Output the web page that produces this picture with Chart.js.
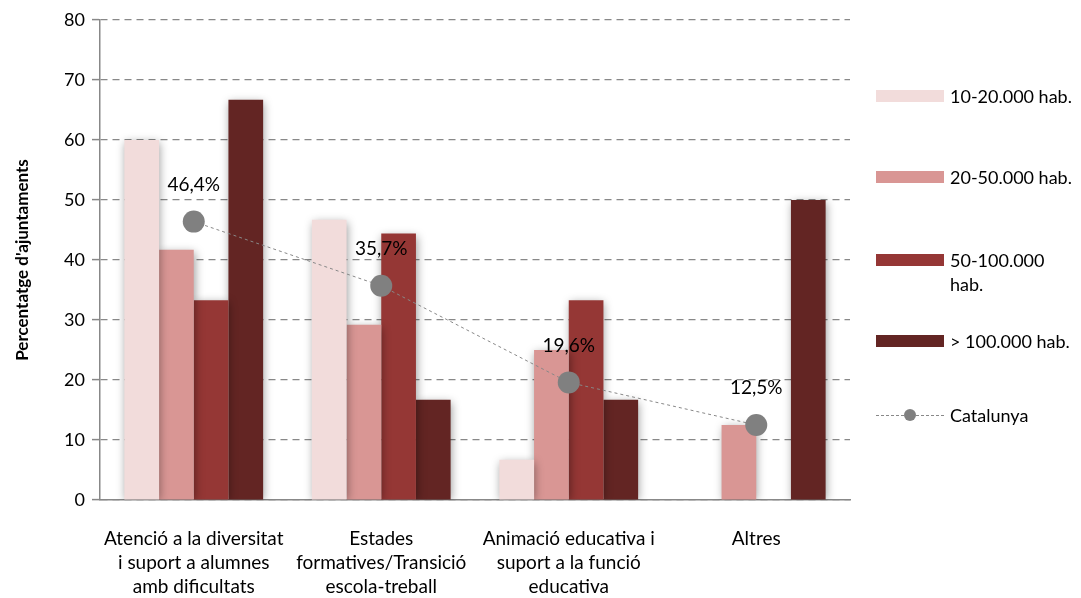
<!DOCTYPE html>
<html>
<head>
<meta charset="utf-8">
<script src="https://cdn.jsdelivr.net/npm/chart.js@4/dist/chart.umd.min.js"></script>
<style>
  body { margin: 0; background: #fff; }
  #caixa { position: relative; width: 1081px; height: 598px; }
  #llegenda { position: absolute; left: 876px; top: 0; font-family: Lato, sans-serif; font-size: 18px; color: #000; }
  .item { position: absolute; left: 0; width: 205px; display: flex; align-items: flex-start; }
  .mostra { width: 68px; height: 12px; flex: none; margin-top: 6px; }
  .text { margin-left: 6px; line-height: 24px; }
  .linia { position: relative; width: 68px; height: 12px; flex: none; margin-top: 6px; }
  .linia::before { content: ''; position: absolute; left: 0; right: 0; top: 6px; border-top: 1px dashed #888; }
  .linia::after { content: ''; position: absolute; left: 28px; top: 0; width: 12px; height: 12px; border-radius: 50%; background: #808080; }
</style>
</head>
<body>
<div id="caixa">
  <canvas id="grafic"></canvas>
  <div id="llegenda"></div>
</div>
<script>
const categories = [
    ['Atenció a la diversitat', 'i suport a alumnes', 'amb dificultats'],
    ['Estades', 'formatives/Transició', 'escola-treball'],
    ['Animació educativa i', 'suport a la funció', 'educativa'],
    ['Altres']
];
const sèries = ['10-20.000 hab.', '20-50.000 hab.', '50-100.000 hab.', '> 100.000 hab.'];
const valors10a20 = [60, 46.7, 6.7, 0];
const valors20a50 = [41.7, 29.2, 25, 12.5];
const valors50a100 = [33.3, 44.4, 33.3, 0];
const valorsMes100 = [66.7, 16.7, 16.7, 50];
const valorsCatalunya = [46.4, 35.7, 19.6, 12.5];
const ticksY = [0, 10, 20, 30, 40, 50, 60, 70, 80];
const colors = ['#F2DCDB', '#D99694', '#953735', '#632523'];

// ombra suau sota les barres
const ombra = {
    id: 'ombra',
    beforeDatasetDraw(chart, args) {
        if (args.meta.type !== 'bar') return;
        const ctx = chart.ctx;
        ctx.save();
        ctx.shadowColor = 'rgba(0,0,0,0.4)';
        ctx.shadowBlur = 9;
        ctx.shadowOffsetX = 1;
        ctx.shadowOffsetY = 2;
    },
    afterDatasetDraw(chart, args) {
        if (args.meta.type !== 'bar') return;
        chart.ctx.restore();
    }
};

const etiquetes = {
    id: 'etiquetes',
    afterDatasetsDraw(chart) {
        const meta = chart.getDatasetMeta(0);
        const ctx = chart.ctx;
        ctx.save();
        ctx.font = '19px Lato, sans-serif';
        ctx.fillStyle = '#000';
        ctx.textAlign = 'center';
        ctx.textBaseline = 'middle';
        meta.data.forEach((punt, i) => {
            const text = valorsCatalunya[i].toFixed(1).replace('.', ',') + '%';
            ctx.fillText(text, punt.x, punt.y - 37);
        });
        ctx.restore();
    }
};

const datasets = [{
    type: 'line',
    label: 'Catalunya',
    data: valorsCatalunya,
    borderColor: '#888',
    borderWidth: 1,
    borderDash: [3, 3],
    pointRadius: 11,
    pointBackgroundColor: '#808080',
    pointBorderWidth: 0,
    order: 0
}];
[valors10a20, valors20a50, valors50a100, valorsMes100].forEach((v, i) => {
    datasets.push({
        type: 'bar',
        label: sèries[i],
        data: v,
        backgroundColor: colors[i],
        borderWidth: 0,
        categoryPercentage: 0.74,
        barPercentage: 1,
        order: 1
    });
});

new Chart(document.getElementById('grafic'), {
    data: { labels: categories, datasets: datasets },
    plugins: [ombra, etiquetes],
    options: {
        responsive: true,
        maintainAspectRatio: false,
        animation: false,
        layout: { padding: { top: 20, right: 231, left: 0, bottom: 0 } },
        plugins: { legend: { display: false }, tooltip: { enabled: false } },
        scales: {
            x: {
                grid: { display: false },
                border: { display: true, color: '#888', width: 1.5 },
                ticks: { color: '#000', font: { family: 'Lato', size: 19, lineHeight: '24px' }, padding: 19, maxRotation: 0 },
                afterFit(s) { s.height = 98; }
            },
            y: {
                min: 0,
                max: 80,
                afterBuildTicks(s) { s.ticks = ticksY.map(v => ({ value: v })); },
                grid: { color: '#888', lineWidth: 1.2, tickLength: 8, tickColor: '#888', tickWidth: 1.5 },
                border: { display: true, color: '#888', width: 1.5, dash: [7, 5] },
                ticks: { color: '#000', font: { family: 'Lato', size: 18 }, padding: 7 },
                title: { display: true, text: "Percentatge d'ajuntaments", color: '#000', font: { family: 'Lato', size: 17, weight: 'bold' }, padding: { top: 12, bottom: 4 } },
                afterFit(s) { s.width = 100; }
            }
        }
    }
});

const llegenda = document.getElementById('llegenda');
const posicions = [84, 165, 248, 329];
sèries.forEach((nom, i) => {
    const d = document.createElement('div');
    d.className = 'item';
    d.style.top = posicions[i] + 'px';
    const text = nom === '50-100.000 hab.' ? '50-100.000<br>hab.' : nom;
    d.innerHTML = '<div class="mostra" style="background:' + colors[i] + '"></div><div class="text">' + text + '</div>';
    llegenda.appendChild(d);
});
const cat = document.createElement('div');
cat.className = 'item';
cat.style.top = '403px';
cat.innerHTML = '<div class="linia"></div><div class="text">Catalunya</div>';
llegenda.appendChild(cat);
</script>
</body>
</html>
